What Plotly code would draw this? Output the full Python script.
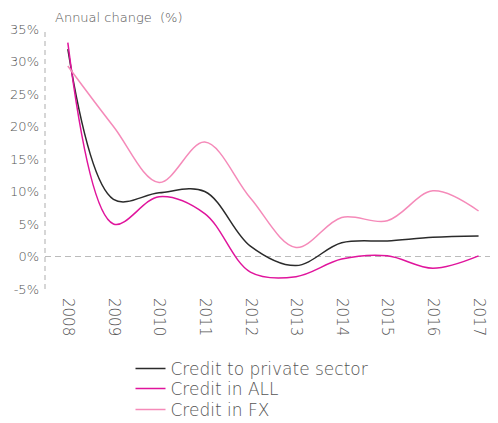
import plotly.graph_objects as go

years = [2008, 2009, 2010, 2011, 2012, 2013, 2014, 2015, 2016, 2017]
credit_private = [31.9, 8.8, 9.8, 10.0, 1.6, -1.4, 2.1, 2.4, 2.95, 3.15]
credit_all = [32.9, 5.0, 9.2, 6.6, -2.4, -3.1, -0.4, 0.1, -1.8, 0.1]
credit_fx = [29.3, 20.0, 11.4, 17.6, 9.0, 1.4, 6.0, 5.5, 10.1, 7.0]
y_ticks = [-5, 0, 5, 10, 15, 20, 25, 30, 35]

series = [
    ("Credit to private sector", credit_private, "#2b2b2b", "legend", -0.3077),
    ("Credit in ALL", credit_all, "#e0149c", "legend2", -0.3846),
    ("Credit in FX", credit_fx, "#f58ab9", "legend3", -0.4654),
]

font_family = "DejaVu Sans"
grey = "#555555"
wt = 200

fig = go.Figure()
legends = {}
for name, vals, color, leg, ly in series:
    fig.add_trace(go.Scatter(
        x=years, y=vals, name=name, mode="lines", legend=leg,
        line=dict(color=color, width=1.5, shape="spline", smoothing=1.0),
    ))
    legends[leg] = dict(x=0.19, y=ly, xanchor="left", yanchor="middle",
                        font=dict(size=17, color=grey, family=font_family, weight=wt),
                        bgcolor="rgba(0,0,0,0)", itemwidth=30)

fig.add_shape(type="line", xref="paper", yref="y", x0=0, x1=1, y0=0, y1=0,
              line=dict(color="#bbbbbb", width=1.2, dash="6px,4px"), layer="below")
fig.add_shape(type="line", xref="paper", yref="y", x0=0, x1=0, y0=-5, y1=35,
              line=dict(color="#bbbbbb", width=1.2, dash="5px,4px"), layer="below")

fig.add_annotation(text="Annual change  (%)", xref="paper", yref="paper",
                   x=0.018, y=1.046, xanchor="left", yanchor="middle",
                   showarrow=False, font=dict(size=13, color=grey, family=font_family, weight=wt))

# page body has an 8px default margin, so the figure is sized 490x415
fig.update_layout(
    width=490, height=415,
    margin=dict(l=37, r=3, t=21, b=134, autoexpand=False),
    paper_bgcolor="white", plot_bgcolor="white",
    font=dict(family=font_family, color=grey, weight=wt),
    showlegend=True,
    xaxis=dict(range=[2007.5, 2017.36], tickvals=years, ticktext=[str(y) for y in years],
               tickangle=90, showgrid=False, zeroline=False, showline=False, automargin=False,
               ticks="", tickfont=dict(size=15, color=grey, family=font_family, weight=wt),
               ticklabelstandoff=8),
    yaxis=dict(range=[-5, 35], tickvals=y_ticks, ticktext=[f"{v}%" for v in y_ticks],
               showgrid=False, zeroline=False, showline=False, ticks="", automargin=False,
               tickfont=dict(size=13, color=grey, family=font_family, weight=wt),
               ticklabelstandoff=5),
    **legends,
)

fig.write_html("out.html")
